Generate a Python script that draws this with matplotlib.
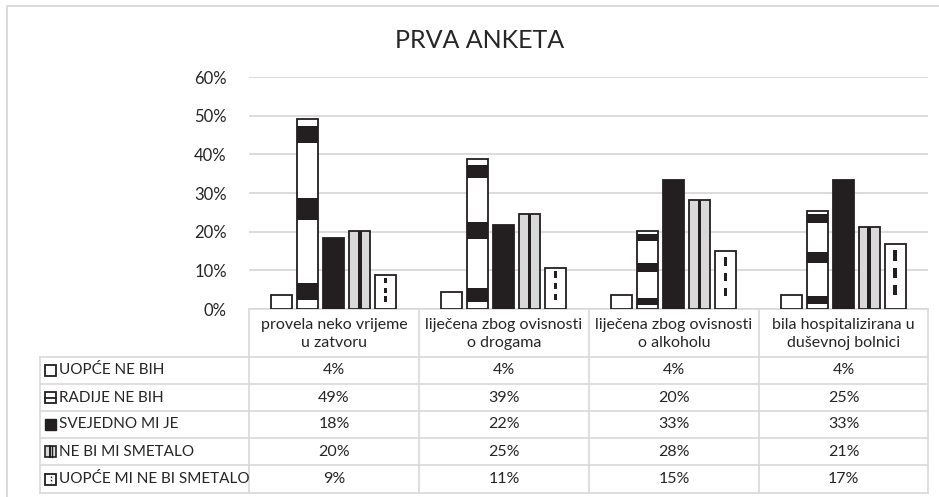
import matplotlib.pyplot as plt
from matplotlib.patches import Rectangle
import numpy as np

plt.rcParams['font.family'] = ['Lato', 'DejaVu Sans']

title = "PRVA ANKETA"
categories = [
    "provela neko vrijeme\nu zatvoru",
    "liječena zbog ovisnosti\no drogama",
    "liječena zbog ovisnosti\no alkoholu",
    "bila hospitalizirana u\nduševnoj bolnici",
]
series_names = [
    "UOPĆE NE BIH",
    "RADIJE NE BIH",
    "SVEJEDNO MI JE",
    "NE BI MI SMETALO",
    "UOPĆE MI NE BI SMETALO",
]
uopce_ne_bih = [0.036, 0.044, 0.036, 0.036]
radije_ne_bih = [0.492, 0.387, 0.202, 0.254]
svejedno = [0.183, 0.218, 0.333, 0.333]
ne_bi_smetalo = [0.203, 0.246, 0.281, 0.211]
uopce_ne_bi_smetalo = [0.088, 0.107, 0.149, 0.167]
values = [uopce_ne_bih, radije_ne_bih, svejedno, ne_bi_smetalo, uopce_ne_bi_smetalo]
yticks = [0, 0.1, 0.2, 0.3, 0.4, 0.5, 0.6]

W, H = 939, 497
DARK = "#231f20"
GRID = "#d9d9d9"
TXT = "#262626"
FS = 11.5

fig = plt.figure(figsize=(W / 100, H / 100), dpi=100)

# overlay in pixel coords for frame + table
bg = fig.add_axes([0, 0, 1, 1])
bg.set_xlim(0, W)
bg.set_ylim(H, 0)
bg.axis("off")

# plot area
x0, x1, ytop, ybot = 249, 928, 77, 309
ax = fig.add_axes([x0 / W, 1 - ybot / H, (x1 - x0) / W, (ybot - ytop) / H])
ax.set_xlim(-0.5, len(categories) - 0.5)
ax.set_ylim(0, 0.6)
ax.set_yticks(yticks)
ax.set_yticklabels([f"{int(round(t * 100))}%" for t in yticks], fontsize=12, color=TXT)
ax.tick_params(axis="y", length=0, pad=16)
ax.set_xticks([])
for s in ax.spines.values():
    s.set_visible(False)
ax.grid(axis="y", color=GRID, lw=1.3)
ax.set_axisbelow(True)
ax.patch.set_alpha(0)

x = np.arange(len(categories))
bw = 0.124
step = 0.153
offs = (np.arange(5) - 2) * step
lw = 1.3

# series 1: plain white
ax.bar(x + offs[0], uopce_ne_bih, bw, color="white", edgecolor=DARK, lw=lw, zorder=3)

# series 2: white with stretched black bands
ax.bar(x + offs[1], radije_ne_bih, bw, color="white", edgecolor=DARK, lw=lw, zorder=3)
for f0, f1 in [(0.047, 0.137), (0.468, 0.584), (0.874, 0.963)]:
    v = np.array(radije_ne_bih)
    ax.bar(x + offs[1], v * (f1 - f0), bw, bottom=v * f0, color=DARK, lw=0, zorder=4)

# series 3: solid black
ax.bar(x + offs[2], svejedno, bw, color=DARK, edgecolor=DARK, lw=lw, zorder=3)

# series 4: grey with black centre stripe
ax.bar(x + offs[3], ne_bi_smetalo, bw, color=GRID, edgecolor=DARK, lw=lw, zorder=3)
ax.bar(x + offs[3], ne_bi_smetalo, bw * 0.16, color=DARK, lw=0, zorder=4)

# series 5: white with dashed centre line
ax.bar(x + offs[4], uopce_ne_bi_smetalo, bw, color="white", edgecolor=DARK, lw=lw, zorder=3)
for f0, f1 in [(0.22, 0.37), (0.48, 0.63), (0.75, 0.91)]:
    v = np.array(uopce_ne_bi_smetalo)
    ax.bar(x + offs[4], v * (f1 - f0), bw * 0.15, bottom=v * f0, color=DARK, lw=0, zorder=4)

# outer frame
bg.plot([7, 7, W], [H, 6, 6], color=GRID, lw=1.3)

bg.text(480, 40, title, ha="center", va="center", fontsize=18, color=TXT)

# data table
col_edges = [249, 419, 589, 759, 928]
tbl_left = 40
row_edges = [309, 357, 384, 411, 438, 465, 493]
tl = dict(color=GRID, lw=1.2)
bg.plot([x0, x1], [309, 309], **tl)
for ye in row_edges[1:]:
    bg.plot([tbl_left, x1], [ye, ye], **tl)
bg.plot([tbl_left, tbl_left], [row_edges[1], row_edges[-1]], **tl)
for xe in col_edges:
    bg.plot([xe, xe], [row_edges[0], row_edges[-1]], **tl)

for i, cat in enumerate(categories):
    cx = (col_edges[i] + col_edges[i + 1]) / 2
    bg.text(cx, (row_edges[0] + row_edges[1]) / 2 + 1, cat, ha="center", va="center",
            fontsize=FS, color=TXT, linespacing=1.3)

for r, (name, vals) in enumerate(zip(series_names, values)):
    cy = (row_edges[r + 1] + row_edges[r + 2]) / 2
    bg.text(59, cy, name, ha="left", va="center", fontsize=11, color=TXT)
    for i, v in enumerate(vals):
        cx = (col_edges[i] + col_edges[i + 1]) / 2
        bg.text(cx, cy, f"{int(round(v * 100))}%", ha="center", va="center",
                fontsize=FS, color=TXT)
    # legend key
    kx, ky, ks = 45, cy - 5.5, 11
    if r == 2:
        bg.add_patch(Rectangle((kx, ky), ks, ks, facecolor=DARK, edgecolor=DARK, lw=1))
    elif r == 3:
        bg.add_patch(Rectangle((kx, ky), ks, ks, facecolor=GRID, edgecolor=DARK, lw=1.2))
        bg.plot([kx + ks * 0.45, kx + ks * 0.45], [ky, ky + ks], color=DARK, lw=1.4)
        bg.plot([kx + ks * 0.6, kx + ks * 0.6], [ky, ky + ks], color=DARK, lw=1.0)
    else:
        bg.add_patch(Rectangle((kx, ky), ks, ks, facecolor="white", edgecolor=DARK, lw=1.3))
        if r == 1:
            bg.plot([kx, kx + ks], [ky + ks / 2, ky + ks / 2], color=DARK, lw=1.3)
        if r == 4:
            bg.plot([kx + ks / 2, kx + ks / 2], [ky + 2, ky + ks - 2], color=DARK,
                    lw=1.0, ls=(0, (1.2, 1.2)))

fig.savefig("out.png", dpi=100)
